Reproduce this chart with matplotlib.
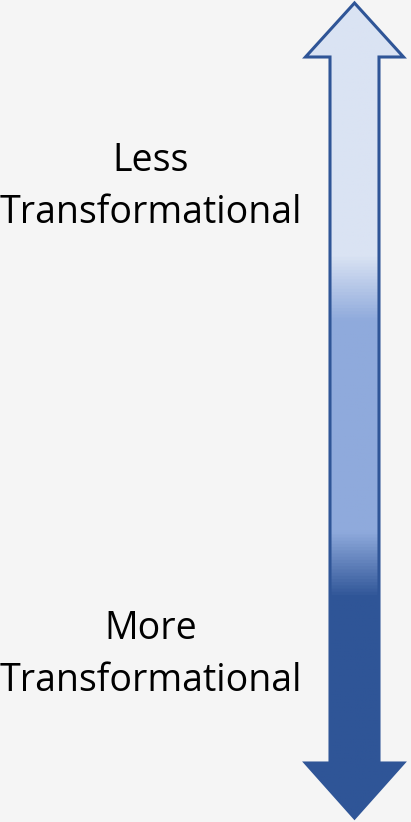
import numpy as np
import matplotlib
matplotlib.use("Agg")
import matplotlib.pyplot as plt
from matplotlib.patches import Polygon
from matplotlib.colors import LinearSegmentedColormap

labels = ["Less\nTransformational", "More\nTransformational"]
label_y = [187, 655]
stop_pos = [0.0, 0.31, 0.39, 0.65, 0.73, 1.0]
stop_colors = ["#DAE3F3", "#DAE3F3", "#8FAADC", "#8FAADC", "#2F5597", "#2F5597"]

W, H = 411, 822
fig = plt.figure(figsize=(W / 100, H / 100), dpi=100)
fig.patch.set_facecolor("#F5F5F5")
ax = fig.add_axes([0, 0, 1, 1])
ax.set_xlim(0, W)
ax.set_ylim(H, 0)
ax.axis("off")

cx = 354.5
head_half = 49
shaft_half = 24.5
top_tip, top_base = 3, 57
bot_base, bot_tip = 763, 818
verts = [
    (cx, top_tip), (cx + head_half, top_base), (cx + shaft_half, top_base),
    (cx + shaft_half, bot_base), (cx + head_half, bot_base), (cx, bot_tip),
    (cx - head_half, bot_base), (cx - shaft_half, bot_base), (cx - shaft_half, top_base),
    (cx - head_half, top_base),
]

cmap = LinearSegmentedColormap.from_list("g", list(zip(stop_pos, stop_colors)))
grad = np.linspace(0, 1, 512).reshape(-1, 1)
im = ax.imshow(grad, cmap=cmap, aspect="auto",
               extent=(cx - head_half, cx + head_half, bot_tip, top_tip),
               origin="upper", zorder=1)
poly = Polygon(verts, closed=True, facecolor="none", edgecolor="#2F5597",
               linewidth=2.2, joinstyle="miter", zorder=2)
ax.add_patch(poly)
im.set_clip_path(poly)

for lab, y in zip(labels, label_y):
    ax.text(151, y, lab, ha="center", va="center", fontsize=27,
            family=["Open Sans", "DejaVu Sans"], color="#000000", linespacing=1.45)

fig.savefig("out.png", dpi=100, facecolor=fig.get_facecolor())
